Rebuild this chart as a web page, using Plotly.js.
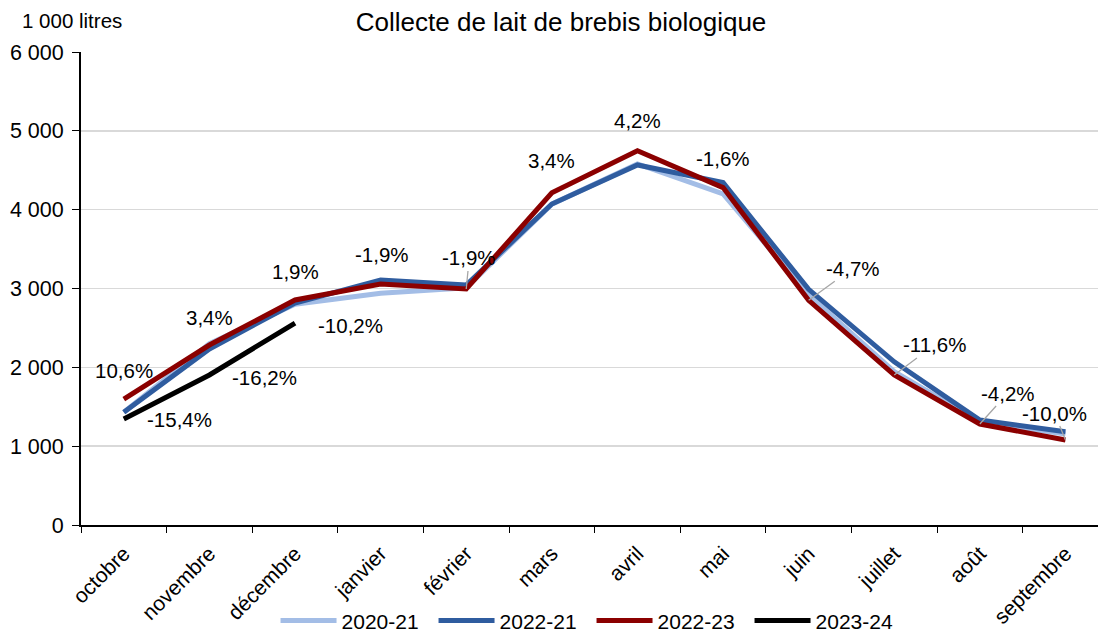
<!DOCTYPE html>
<html>
<head>
<meta charset="utf-8">
<script src="https://cdn.plot.ly/plotly-3.0.1.min.js"></script>
<style>html,body{margin:0;padding:0;background:#fff;}#chart{width:1098px;height:633px;}</style>
</head>
<body>
<div id="chart"></div>
<script>
// ---- Data ----
const months = ["octobre","novembre","décembre","janvier","février","mars","avril","mai","juin","juillet","août","septembre"];
const s2020_21 = [1430, 2300, 2800, 2940, 3010, 4070, 4580, 4200, 2920, 1945, 1310, 1155];
const s2022_21 = [1430, 2233, 2816, 3108, 3045, 4072, 4567, 4343, 2990, 2070, 1332, 1184];
const s2022_23 = [1598, 2283, 2854, 3057, 2994, 4215, 4748, 4280, 2850, 1903, 1281, 1078];
const s2023_24 = [1345, 1903, 2562, null, null, null, null, null, null, null, null, null];
const seriesNames = ["2020-21", "2022-21", "2022-23", "2023-24"];
const redLabels = ["10,6%","3,4%","1,9%","-1,9%","-1,9%","3,4%","4,2%","-1,6%","-4,7%","-11,6%","-4,2%","-10,0%"];
const blackLabels = ["-15,4%","-16,2%","-10,2%"];

// ---- Styling ----
const FONT = "Liberation Sans, Arial, sans-serif";
const colors = ["#A3BDE6", "#2F5C9F", "#8B0000", "#000000"];
const redOffsets = [[0,-29,false],[0,-28,false],[0,-29,false],[1,-30,false],[3,-31,true],[0,-32,false],[0,-30,false],[0,-29,false],[44,-32,true],[40,-30,true],[28,-31,true],[-11,-27,true]];
const blackOffsets = [[56,1],[55,3],[55,2]];

const allSeries = [s2020_21, s2022_21, s2022_23, s2023_24];
const traces = allSeries.map((s, i) => ({
  type: "scatter", mode: "lines", x: months, y: s, name: seriesNames[i],
  line: {color: colors[i], width: 5, shape: "linear"},
  connectgaps: false, hoverinfo: "x+y"
}));

const annotations = [];
redLabels.forEach((t, i) => {
  const o = redOffsets[i];
  annotations.push({
    x: months[i], y: s2022_23[i], xref: "x", yref: "y", text: t,
    showarrow: true, arrowhead: 0, arrowwidth: o[2] ? 1.3 : 0.1,
    arrowcolor: o[2] ? "#A6A6A6" : "rgba(0,0,0,0)",
    ax: o[0], ay: o[1], standoff: 0, startstandoff: 0,
    font: {family: FONT, size: 20.5, color: "#000"}
  });
});
blackLabels.forEach((t, i) => {
  const o = blackOffsets[i];
  annotations.push({
    x: months[i], y: s2023_24[i], xref: "x", yref: "y", text: t,
    showarrow: true, arrowhead: 0, arrowwidth: 0.1, arrowcolor: "rgba(0,0,0,0)",
    ax: o[0], ay: o[1],
    font: {family: FONT, size: 20.5, color: "#000"}
  });
});
annotations.push({
  xref: "paper", yref: "paper", x: -0.06, y: 1.067, xanchor: "left", yanchor: "middle",
  text: "1 000 litres", showarrow: false, font: {family: FONT, size: 20.5, color: "#000"}
});

const layout = {
  width: 1098, height: 633,
  margin: {l: 81, r: 0, t: 52, b: 108},
  paper_bgcolor: "#fff", plot_bgcolor: "#fff",
  font: {family: FONT, size: 20, color: "#000"},
  title: {text: "Collecte de lait de brebis biologique", font: {family: FONT, size: 26, color: "#000"},
          xref: "container", x: 0.511, xanchor: "center", yref: "container", y: 0.965, yanchor: "middle"},
  xaxis: {
    type: "category", range: [-0.5, 11.38], tickangle: -45, tickson: "boundaries",
    ticks: "outside", ticklen: 6, tickcolor: "#000", showline: true, linecolor: "#000", linewidth: 2,
    showgrid: false, zeroline: false, ticklabelstandoff: 6,
    tickfont: {family: FONT, size: 21, color: "#000"}, fixedrange: true
  },
  yaxis: {
    range: [0, 6000], tickvals: [0,1000,2000,3000,4000,5000,6000],
    ticktext: ["0","1 000","2 000","3 000","4 000","5 000","6 000"],
    ticks: "outside", ticklen: 7, tickcolor: "#000", showline: true, linecolor: "#000", linewidth: 2,
    showgrid: true, gridcolor: "#D9D9D9", gridwidth: 1.5, zeroline: false, ticklabelstandoff: 4,
    tickfont: {family: FONT, size: 21.5, color: "#000"}, fixedrange: true
  },
  legend: {orientation: "h", xref: "paper", x: 0.502, xanchor: "center", yref: "container", y: 0.019, yanchor: "middle",
           font: {family: FONT, size: 21, color: "#000"}, itemwidth: 56, entrywidth: 87, entrywidthmode: "pixels",
           traceorder: "normal", bgcolor: "rgba(0,0,0,0)"},
  annotations: annotations,
  showlegend: true
};

Plotly.newPlot("chart", traces, layout, {displayModeBar: false, staticPlot: true});
</script>
</body>
</html>
